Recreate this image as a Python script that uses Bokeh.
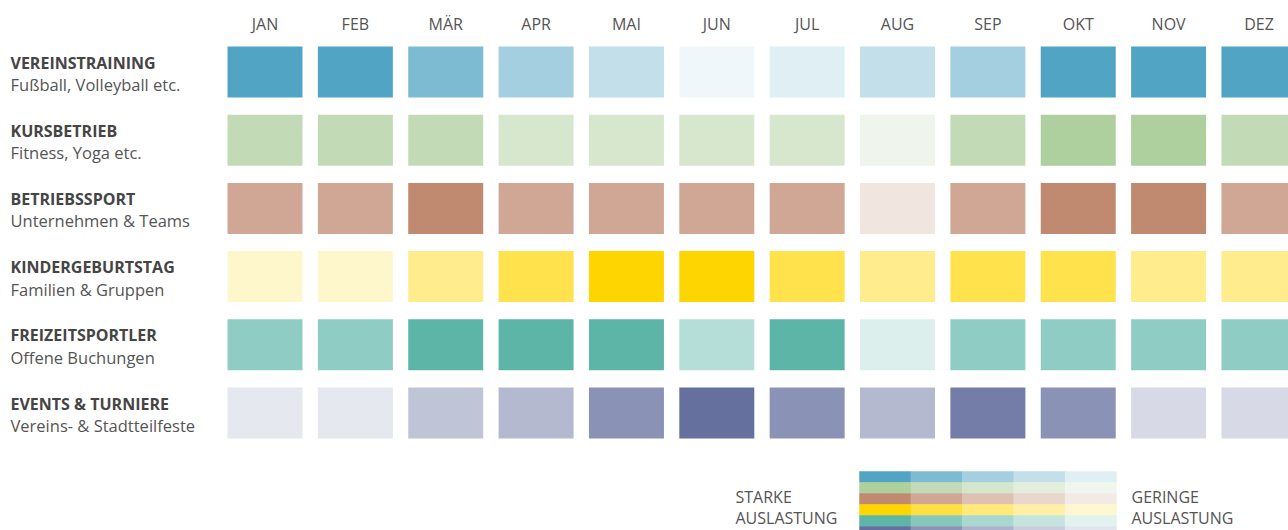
from bokeh.plotting import figure
from bokeh.models import Range1d, ColumnDataSource
from bokeh.core.properties import value
from bokeh.embed import file_html
from bokeh.resources import INLINE

# ---------------- data ----------------
months = ["JAN", "FEB", "MÄR", "APR", "MAI", "JUN", "JUL", "AUG", "SEP", "OKT", "NOV", "DEZ"]
row_titles = ["VEREINSTRAINING", "KURSBETRIEB", "BETRIEBSSPORT", "KINDERGEBURTSTAG",
              "FREIZEITSPORTLER", "EVENTS & TURNIERE"]
row_subtitles = ["Fußball, Volleyball etc.", "Fitness, Yoga etc.", "Unternehmen & Teams",
                 "Familien & Gruppen", "Offene Buchungen", "Vereins- & Stadtteilfeste"]
row_colors = ["#52a4c4", "#aecf9e", "#c08a70", "#ffd500", "#5db5a8", "#65709e"]

# utilisation (0..1) per row and month
vereinstraining = [1.0, 1.0, 0.75, 0.53, 0.35, 0.09, 0.18, 0.35, 0.53, 1.0, 1.0, 1.0]
kursbetrieb = [0.75, 0.75, 0.75, 0.5, 0.5, 0.5, 0.5, 0.2, 0.75, 1.0, 1.0, 0.75]
betriebssport = [0.75, 0.75, 1.0, 0.75, 0.75, 0.75, 0.75, 0.22, 0.75, 1.0, 1.0, 0.75]
kindergeburtstag = [0.2, 0.2, 0.45, 0.7, 1.0, 1.0, 0.7, 0.45, 0.7, 0.7, 0.45, 0.45]
freizeitsportler = [0.69, 0.69, 1.0, 1.0, 1.0, 0.45, 1.0, 0.21, 0.69, 0.69, 0.69, 0.69]
events = [0.16, 0.16, 0.41, 0.49, 0.76, 1.0, 0.76, 0.49, 0.91, 0.76, 0.26, 0.26]
values = [vereinstraining, kursbetrieb, betriebssport, kindergeburtstag, freizeitsportler, events]

legend_levels = [1.0, 0.75, 0.53, 0.35, 0.18]
legend_left = ["STARKE", "AUSLASTUNG"]
legend_right = ["GERINGE", "AUSLASTUNG"]

# ---------------- layout (pixels inside the frame) ----------------
W, H = 1288, 530
X0, PX, CW = 264.5, 90.36, 75      # first cell centre, pitch, cell width
Y0, PY, CH = 71.5, 68.2, 51        # first row centre, pitch, cell height
LX0, LCW = 859, 51.4               # legend matrix left, column width
LY0, LRH = 471, 11                 # legend matrix top, row height

FONT = "Open Sans"
DARK = "#454545"
MID = "#555555"


def blend(hex_color, a):
    h = hex_color.lstrip("#")
    rgb = [int(h[k:k + 2], 16) for k in (0, 2, 4)]
    out = [round(255 - a * (255 - c)) for c in rgb]
    return "#%02x%02x%02x" % tuple(out)


p = figure(width=W, height=H, output_backend="svg", toolbar_location=None,
           x_range=Range1d(0, W), y_range=Range1d(H, 0), min_border=0)
p.axis.visible = False
p.grid.visible = False
p.outline_line_color = None
p.background_fill_color = "white"

# heatmap cells
xs, ys, cs = [], [], []
for j, row in enumerate(values):
    for i, v in enumerate(row):
        xs.append(X0 + i * PX)
        ys.append(Y0 + j * PY)
        cs.append(blend(row_colors[j], v))
p.rect(x="x", y="y", width=CW, height=CH, fill_color="c", line_color=None,
       source=ColumnDataSource(dict(x=xs, y=ys, c=cs)))

# month labels
p.text(x=[X0 + i * PX for i in range(len(months))], y=[23] * len(months), text=months,
       text_font=value(FONT), text_font_size="16px", text_color=MID,
       text_align="center", text_baseline="middle")

# row labels
p.text(x=[10] * 6, y=[Y0 + j * PY - 9.5 for j in range(6)], text=row_titles,
       text_font=value(FONT), text_font_size="16px", text_font_style="bold",
       text_color=DARK, text_align="left", text_baseline="middle")
p.text(x=[10] * 6, y=[Y0 + j * PY + 12.5 for j in range(6)], text=row_subtitles,
       text_font=value(FONT), text_font_size="16.5px", text_color=MID,
       text_align="left", text_baseline="middle")

# legend matrix
lx, ly, lc = [], [], []
for j, base in enumerate(row_colors):
    for k, a in enumerate(legend_levels):
        lx.append(LX0 + (k + 0.5) * LCW)
        ly.append(LY0 + (j + 0.5) * LRH)
        lc.append(blend(base, a))
p.rect(x="x", y="y", width=LCW + 0.5, height=LRH + 0.5, fill_color="c", line_color=None,
       source=ColumnDataSource(dict(x=lx, y=ly, c=lc)))

p.text(x=[735] * 2, y=[496, 517], text=legend_left, text_font=value(FONT),
       text_font_size="16px", text_color=MID, text_align="left", text_baseline="middle")
p.text(x=[1131] * 2, y=[496, 517], text=legend_right, text_font=value(FONT),
       text_font_size="16px", text_color=MID, text_align="left", text_baseline="middle")

open("out.html", "w").write(file_html(p, INLINE))
